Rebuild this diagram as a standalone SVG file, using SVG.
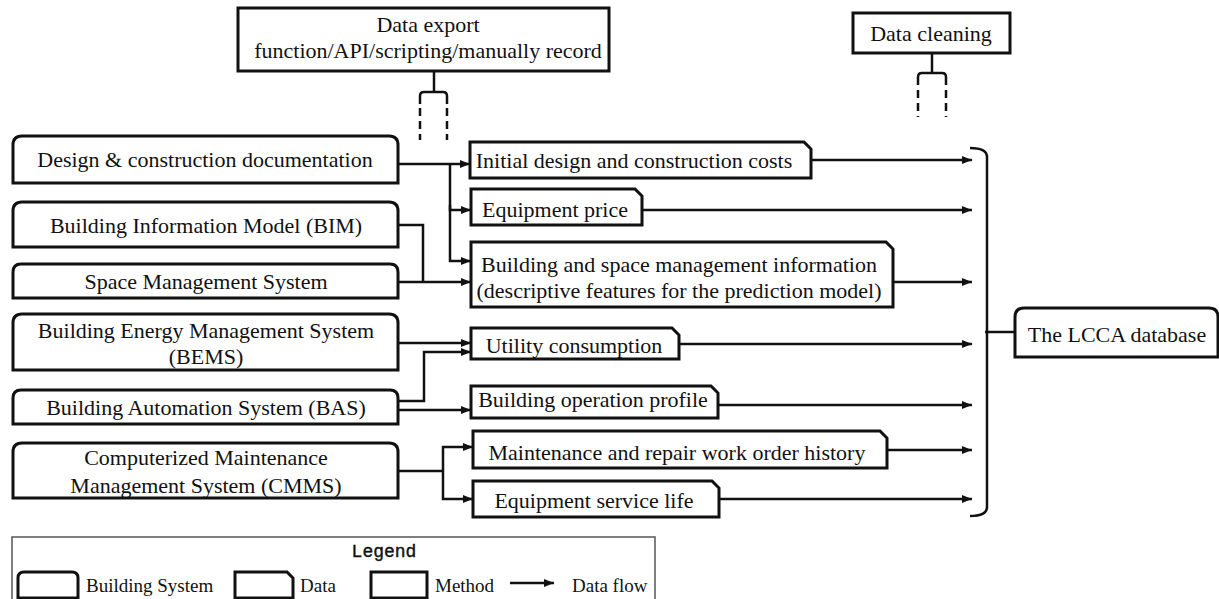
<svg xmlns="http://www.w3.org/2000/svg" width="1219" height="599" viewBox="0 0 1219 599">
<style>
.box{fill:#fff;stroke:#111;stroke-width:3}
.t{font-family:"Liberation Serif","Times New Roman",serif;font-size:22px;fill:#111;text-anchor:middle}
.lt{font-family:"Liberation Serif","Times New Roman",serif;font-size:19px;fill:#111}
.mono{font-family:"Liberation Mono","Courier New",monospace;font-size:18px;fill:#111;stroke:#111;stroke-width:0.4;text-anchor:middle}
.c{fill:none;stroke:#111;stroke-width:2.5}
.d{fill:none;stroke:#111;stroke-width:2.5;stroke-dasharray:8 5}
</style>
<defs>
<marker id="ah" markerUnits="userSpaceOnUse" markerWidth="11" markerHeight="9" refX="10" refY="4.5" orient="auto">
<path d="M0,0.5 L10,4.5 L0,8.5 Z" fill="#111"/>
</marker>
</defs>
<rect width="1219" height="599" fill="#fff"/>

<g id="method-export">
<rect class="box" x="238" y="8" width="371" height="63"/>
<text class="t" x="428" y="32">Data export</text>
<text class="t" x="428" y="58">function/API/scripting/manually record</text>
</g>
<g id="method-cleaning">
<rect class="box" x="853" y="13" width="157" height="40"/>
<text class="t" x="931" y="41">Data cleaning</text>
</g>

<g id="sys-design">
<path class="box" d="M13,183 V145 Q13,136 22,136 H389 Q398,136 398,145 V183 Z"/>
<text class="t" x="205" y="167">Design &amp; construction documentation</text>
</g>
<g id="sys-bim">
<path class="box" d="M13,247 V211 Q13,202 22,202 H389 Q398,202 398,211 V247 Z"/>
<text class="t" x="206" y="233">Building Information Model (BIM)</text>
</g>
<g id="sys-space">
<path class="box" d="M13,298 V272 Q13,264 21,264 H390 Q398,264 398,272 V298 Z"/>
<text class="t" x="206" y="289">Space Management System</text>
</g>
<g id="sys-bems">
<path class="box" d="M13,370 V323 Q13,314 22,314 H389 Q398,314 398,323 V370 Z"/>
<text class="t" x="206" y="338">Building Energy Management System</text>
<text class="t" x="206" y="364">(BEMS)</text>
</g>
<g id="sys-bas">
<path class="box" d="M13,424 V398 Q13,390 21,390 H390 Q398,390 398,398 V424 Z"/>
<text class="t" x="206" y="415">Building Automation System (BAS)</text>
</g>
<g id="sys-cmms">
<path class="box" d="M13,498 V452 Q13,443 22,443 H389 Q398,443 398,452 V498 Z"/>
<text class="t" x="206" y="465">Computerized Maintenance</text>
<text class="t" x="206" y="493">Management System (CMMS)</text>
</g>

<g id="data-initial">
<path class="box" d="M470,142 H804 L811,149 V178 H470 Z"/>
<text class="t" x="634" y="168">Initial design and construction costs</text>
</g>
<g id="data-price">
<path class="box" d="M471,189 H635 L642,196 V225 H471 Z"/>
<text class="t" x="555" y="217">Equipment price</text>
</g>
<g id="data-space">
<path class="box" d="M471,242 H886 L893,249 V307 H471 Z"/>
<text class="t" x="679" y="272">Building and space management information</text>
<text class="t" x="679" y="298">(descriptive features for the prediction model)</text>
</g>
<g id="data-utility">
<path class="box" d="M471,328 H672 L679,335 V359 H471 Z"/>
<text class="t" x="574" y="353">Utility consumption</text>
</g>
<g id="data-operation">
<path class="box" d="M471,386 H711 L718,393 V418 H471 Z"/>
<text class="t" x="593" y="407">Building operation profile</text>
</g>
<g id="data-maintenance">
<path class="box" d="M473,431 H880 L887,438 V468 H473 Z"/>
<text class="t" x="677" y="460">Maintenance and repair work order history</text>
</g>
<g id="data-servicelife">
<path class="box" d="M473,481 H712 L719,488 V517 H473 Z"/>
<text class="t" x="594" y="508">Equipment service life</text>
</g>

<g id="lcca">
<path class="box" d="M1015,357 V317 Q1015,308 1024,308 H1209 Q1218,308 1218,317 V357 Z"/>
<text class="t" x="1117" y="342">The LCCA database</text>
</g>

<g id="connectors">
<path class="c" d="M434,71 V92"/>
<path class="c" d="M420,104 V96 Q420,92 424,92 H443 Q447,92 447,96 V104"/>
<path class="d" d="M420,108 V140 M447,108 V140"/>
<path class="c" d="M932,53 V73"/>
<path class="c" d="M918,85 V77 Q918,73 922,73 H942 Q946,73 946,77 V85"/>
<path class="d" d="M918,90 V117 M946,90 V117"/>

<path class="c" d="M970,148 Q987,148 987,157 V507 Q987,516 970,516"/>
<path class="c" d="M985,332 H1015"/>

<path class="c" marker-end="url(#ah)" d="M398,164 H470"/>
<path class="c" marker-end="url(#ah)" d="M450,164 V210 H471"/>
<path class="c" marker-end="url(#ah)" d="M450,205 V261 H471"/>
<path class="c" d="M398,225 H423 V282"/>
<path class="c" marker-end="url(#ah)" d="M398,282 H471"/>
<path class="c" marker-end="url(#ah)" d="M398,343 H471"/>
<path class="c" marker-end="url(#ah)" d="M398,401 H424 V352 H471"/>
<path class="c" marker-end="url(#ah)" d="M398,410 H471"/>
<path class="c" d="M398,471 H443"/>
<path class="c" marker-end="url(#ah)" d="M443,471 V447 H473"/>
<path class="c" marker-end="url(#ah)" d="M443,471 V499 H473"/>

<path class="c" marker-end="url(#ah)" d="M811,160 H972"/>
<path class="c" marker-end="url(#ah)" d="M642,210 H972"/>
<path class="c" marker-end="url(#ah)" d="M893,282 H972"/>
<path class="c" marker-end="url(#ah)" d="M679,344 H972"/>
<path class="c" marker-end="url(#ah)" d="M718,405 H972"/>
<path class="c" marker-end="url(#ah)" d="M887,450 H972"/>
<path class="c" marker-end="url(#ah)" d="M719,499 H972"/>
</g>

<g id="legend">
<rect x="12" y="537" width="643" height="70" fill="none" stroke="#555" stroke-width="1.5"/>
<text class="mono" x="384" y="557">Legend</text>
<path class="box" d="M18,598 V578 Q18,572 24,572 H72 Q78,572 78,578 V598 Z"/>
<text class="lt" x="86" y="592">Building System</text>
<path class="box" d="M235,572 H287 L293,578 V598 H235 Z"/>
<text class="lt" x="300" y="592">Data</text>
<rect class="box" x="371" y="572" width="56" height="26"/>
<text class="lt" x="435" y="592">Method</text>
<path class="c" marker-end="url(#ah)" d="M510,583 H554"/>
<text class="lt" x="572" y="592">Data flow</text>
</g>
</svg>
